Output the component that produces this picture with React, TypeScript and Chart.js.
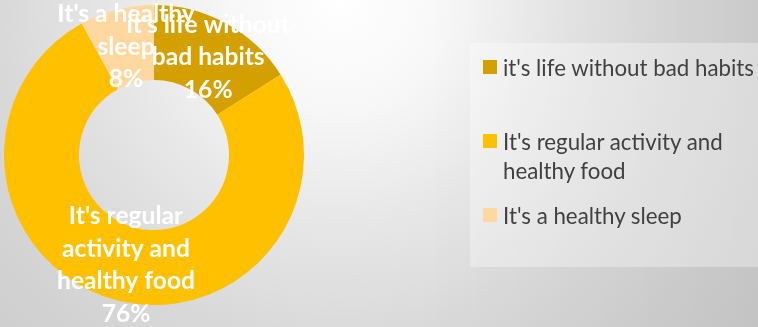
import React, { useEffect, useRef } from "react";
import { Chart, registerables } from "chart.js";

Chart.register(...registerables);

// ---- data ----
const categories = [
  "it's life without bad habits",
  "It's regular activity and healthy food",
  "It's a healthy sleep",
];
const values = [16, 76, 8];
const sliceColors = ["#D4A000", "#FFC000", "#FFD8A0"];
// wrapped text of the in-slice data labels (category names)
const dataLabelLines = [
  ["it's life without", "bad habits"],
  ["It's regular", "activity and", "healthy food"],
  ["It's a healthy", "sleep"],
];
// wrapped legend text
const legendLines = [
  ["it's life without bad habits"],
  ["It's regular activity and", "healthy food"],
  ["It's a healthy sleep"],
];

const W = 758;
const H = 327;

const dataLabelPlugin = {
  id: "sliceLabels",
  afterDatasetsDraw(chart: any) {
    const ctx = chart.ctx;
    const meta = chart.getDatasetMeta(0);
    const data = chart.data.datasets[0].data as number[];
    const total = data.reduce((a, b) => a + b, 0);
    ctx.save();
    ctx.fillStyle = "#FFFFFF";
    ctx.font = "bold 24.6px Lato";
    ctx.textAlign = "center";
    ctx.textBaseline = "middle";
    const lh = 32.5;
    meta.data.forEach((arc: any, i: number) => {
      const p = arc.tooltipPosition(false);
      const lines = [...dataLabelLines[i], Math.round((data[i] / total) * 100) + "%"];
      const y0 = p.y - ((lines.length - 1) / 2) * lh + 1;
      lines.forEach((t, k) => ctx.fillText(t, p.x, y0 + k * lh));
    });
    ctx.restore();
  },
};

export default function App() {
  const ref = useRef<HTMLCanvasElement>(null);
  useEffect(() => {
    if (!ref.current) return;
    Chart.defaults.font.family = "Lato";
    const chart = new Chart(ref.current, {
      type: "doughnut",
      data: {
        labels: categories,
        datasets: [
          {
            data: values,
            backgroundColor: sliceColors,
            borderWidth: 0,
            hoverOffset: 0,
            offset: 0,
          },
        ],
      },
      options: {
        responsive: false,
        animation: false,
        devicePixelRatio: 1,
        cutout: "50%",
        layout: { padding: { left: 4, top: 5, right: W - 304, bottom: H - 305 } },
        plugins: {
          legend: { display: false },
          tooltip: { enabled: false },
        },
      },
      plugins: [dataLabelPlugin],
    });
    return () => chart.destroy();
  }, []);

  return (
    <div
      style={{
        position: "fixed",
        left: 0,
        top: 0,
        width: W,
        height: H,
        overflow: "hidden",
        background:
          "linear-gradient(to right, rgba(0,0,0,0) 55%, rgba(0,0,0,0.04) 100%), radial-gradient(circle at 340px 0px, #ffffff 0px, #f7f7f7 110px, #e6e6e6 230px, #d9d9d9 340px, #cfcfcf 460px, #cacaca 560px)",
      }}
    >
      <canvas ref={ref} width={W} height={H} style={{ position: "absolute", left: 0, top: 0 }} />
      <div
        style={{
          position: "absolute",
          left: 470,
          top: 43,
          width: W - 470,
          height: 224,
          background: "rgba(255,255,255,0.33)",
        }}
      >
        {categories.map((c, i) => (
          <div
            key={c}
            style={{
              position: "absolute",
              left: 0,
              top: 9.5 + i * 74,
              width: W - 470,
              height: 74,
            }}
          >
            <div
              style={{
                position: "absolute",
                left: 13,
                top: 7.5,
                width: 14,
                height: 14,
                background: sliceColors[i],
              }}
            />
            <div
              style={{
                position: "absolute",
                left: 33,
                top: 0,
                fontFamily: "Lato",
                fontSize: "22.3px",
                lineHeight: "29px",
                color: "#404040",
                whiteSpace: "nowrap",
              }}
            >
              {legendLines[i].map((t, k) => (
                <div key={k}>{t}</div>
              ))}
            </div>
          </div>
        ))}
      </div>
    </div>
  );
}
